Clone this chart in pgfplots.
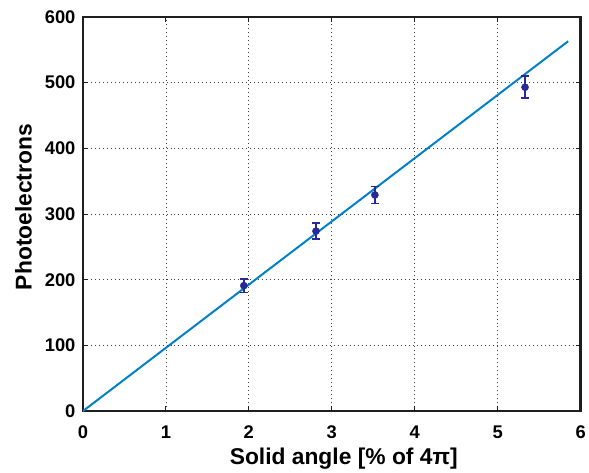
\documentclass[border=0pt]{standalone}
\usepackage{fontspec}
\setmainfont{Liberation Sans}
\usepackage{pgfplots}
\pgfplotsset{compat=1.18}
\definecolor{fitblue}{RGB}{0,128,200}
\definecolor{ptblue}{RGB}{42,42,150}

\begin{document}
\begin{tikzpicture}
\begin{axis}[
    name=ax,
    scale only axis,
    width=500bp, height=396bp,
    xmin=0, xmax=6, ymin=0, ymax=600,
    xtick={0,1,...,6}, ytick={0,100,...,600},
    axis line style={line width=2.6bp, black!88},
    tick style={black!88, line width=0.8bp},
    tick align=inside, tick pos=both,
    major tick length=5bp,
    grid=major,
    major grid style={dash pattern=on 1bp off 3bp, black!75, line width=0.7bp},
    /pgf/number format/assume math mode=true,
    ticklabel style={font=\fontsize{18.5}{20}\selectfont\bfseries},
    xticklabel style={yshift=-11bp},
    yticklabel style={xshift=-4bp},
    label style={font=\fontsize{23}{25}\selectfont\bfseries},
    xlabel={Solid angle [\% of 4π]},
    ylabel={Photoelectrons},
    xlabel style={at={(axis description cs:0.5,0)}, anchor=base, yshift=-53.5bp, xshift=12bp},
    ylabel style={at={(axis description cs:0,0.5)}, anchor=base, yshift=51.5bp, xshift=7bp},
]
    % fit line
    \addplot[fitblue, line width=2bp] coordinates {(0,0) (5.85,563)};
    % measured points
    \addplot[ptblue, only marks, mark=*, mark size=3.6bp,
        error bars/.cd, y dir=both, y explicit,
        error bar style={line width=2bp},
        error mark options={rotate=90, mark size=4bp, line width=1.8bp}]
        coordinates {
        (1.94,191) +- (0,10.5)
        (2.81,274) +- (0,12.5)
        (3.52,329) +- (0,13)
        (5.33,493) +- (0,16.5)
    };
\end{axis}
\path (ax.south west) ++(-83.3bp,-61bp) rectangle ++(589bp,474bp);
\end{tikzpicture}
\end{document}
